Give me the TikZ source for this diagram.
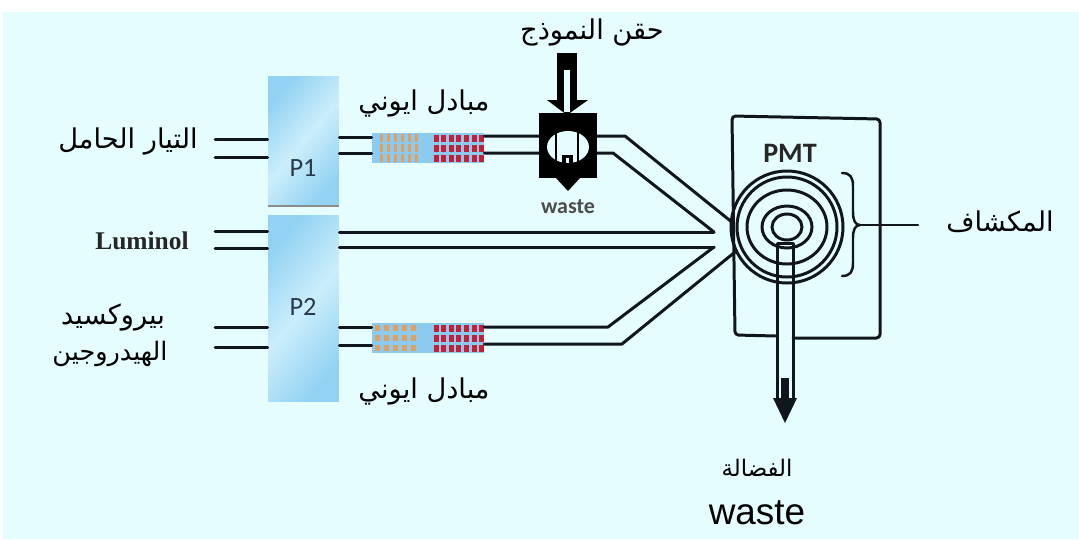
\documentclass[tikz,border=0pt]{standalone}
\usepackage{fontspec}
\usetikzlibrary{calc}
\usetikzlibrary{shapes.geometric}
\TeXXeTstate=1
\newfontfamily\arabicfont[Script=Arabic]{DejaVu Sans}
\newfontfamily\calibrifont{Carlito}
\newfontfamily\arialfont{Liberation Sans}
\newfontfamily\timesfont{Liberation Serif}
\definecolor{paper}{HTML}{E5FDFF}
\definecolor{ink}{HTML}{10161E}
\definecolor{exblue}{HTML}{8CCBEF}
\definecolor{exorange}{HTML}{E0A060}
\definecolor{exred}{HTML}{C02038}
\definecolor{pumpedge}{HTML}{93D2F3}
\definecolor{pumpmid}{HTML}{CBEEFB}
\definecolor{pumptext}{HTML}{2A3A4C}
\tikzstyle{tube}=[ink,line width=1.7pt,line cap=round,line join=round]
\tikzstyle{ring}=[ink,line width=1.7pt]
\tikzstyle{pump}=[inner sep=0pt,minimum width=1.42cm,left color=pumpedge,right color=pumpedge,middle color=pumpmid,shading angle=50]
\tikzstyle{pumplabel}=[inner sep=0pt,text=pumptext,font=\calibrifont\fontsize{15}{15}\selectfont]
\tikzstyle{arlabel}=[inner sep=0pt,align=center,font=\arabicfont\fontsize{15.5}{18}\selectfont]
\newcommand{\newexchanger}[5]{
\pgfmathsetmacro{\ytop}{#2-10}
\node[fill=exblue,inner sep=0pt,minimum width=2.24cm,minimum height=0.6cm] (#1) at (428,#2) {};
\foreach \row in {0,1,2} {
  \foreach \col in {#5} {
    \fill[exorange] (\col-#3/2,\ytop+\row*10-#4/2) rectangle ++(#3,#4);
  }
  \foreach \col in {0,1,...,6} {
    \fill[exred] (436+\col*7.6-2.5,\ytop+\row*10-3.5) rectangle ++(5,7);
  }
}
}
\begin{document}
\begin{tikzpicture}[x=0.02cm,y=-0.02cm]
  \useasboundingbox (0,0) rectangle (1079,539);
  \fill[paper] (3,12) rectangle (1079,539);
  % pumps
  \node[pump,minimum height=2.6cm] (P1) at (303.5,141) {};
  \node[pump,minimum height=3.74cm] (P2) at (303.5,308.5) {};
  \node[pumplabel] (P1text) at (303,168) {P1};
  \node[pumplabel] (P2text) at (303,307) {P2};
  \draw[black!45,line width=1pt] (P1.south west) -- (P1.south east);
  % ion exchangers
  \newexchanger{ionA}{148}{3}{8}{381,388,395,402,409,416}
  \newexchanger{ionB}{338}{5}{6}{377,386,395,404,413}
  % free ends of the tubes
  \coordinate (carrierA) at (215,139);
  \coordinate (carrierB) at (215,157);
  \coordinate (lumA) at (215,231);
  \coordinate (lumB) at (215,248);
  \coordinate (peroxA) at (215,327);
  \coordinate (peroxB) at (215,347);
  \coordinate (mixA) at (733,223);
  \coordinate (mixB) at (714,232);
  \coordinate (mixC) at (714,247);
  \coordinate (mixD) at (735,252);
  \draw[tube] (carrierA) -- (carrierA -| P1.west);
  \draw[tube] (carrierB) -- (carrierB -| P1.west);
  \draw[tube] (lumA) -- (lumA -| P2.west);
  \draw[tube] (lumB) -- (lumB -| P2.west);
  \draw[tube] (peroxA) -- (peroxA -| P2.west);
  \draw[tube] (peroxB) -- (peroxB -| P2.west);
  \draw[tube] (P1.east |- 0,137) -- (ionA.west |- 0,137);
  \draw[tube] (P1.east |- 0,153) -- (ionA.west |- 0,153);
  \draw[tube] (P2.east |- 0,327) -- (ionB.west |- 0,327);
  \draw[tube] (P2.east |- 0,345) -- (ionB.west |- 0,345);
  \draw[tube] (P2.east |- mixB) -- (mixB);
  \draw[tube] (P2.east |- mixC) -- (mixC);
  \draw[tube] (ionA.east |- 0,136) -- (625,136) -- (mixA);
  \draw[tube] (ionA.east |- 0,153) -- (613,153) -- (mixB);
  \draw[tube] (ionB.east |- 0,327) -- (608,327) -- (mixC);
  \draw[tube] (ionB.east |- 0,344) -- (622,344) -- (mixD);
  % injection valve
  \node[fill=black,inner sep=0pt,minimum width=1.18cm,minimum height=1.3cm] (valve) at (568,145.5) {};
  \node[ellipse,fill=paper,inner sep=0pt,minimum width=0.84cm,minimum height=0.64cm] (hole) at (568,147) {};
  \fill[black] (557,53) rectangle (577,101);
  \fill[black] (547,100) -- (588,100) -- (567,115) -- cycle;
  \fill[black] (556,178) -- (580,178) -- (568,191) -- cycle;
  \fill[paper] (564,70) rectangle (570,112);
  \draw[black,line width=1.6pt] (556,131) -- (556,162);
  \draw[black,line width=1.6pt] (578,131) -- (578,162);
  \fill[black] (562,155) rectangle (573,163);
  \fill[paper] (566,158) rectangle (569,163);
  % detector
  \draw[tube,rounded corners=2pt] (776,336) -- (735,335) -- (732,116) -- (880,119) -- (880,338) -- (793,338);
  \foreach \rx/\ry in {56/56,50/50,40/37,25/21,15/13} {
    \draw[ring] (787,227) ellipse [x radius=\rx,y radius=\ry];
  }
  \draw[tube] (777,400) -- (777,243) -- (793,243) -- (793,400);
  \fill[ink] (781,378) rectangle (789,398);
  \fill[ink] (773,398) -- (797,398) -- (785,423) -- cycle;
  % brace to the label
  \coordinate (braceend) at (918,225);
  \draw[tube,line width=1.4pt] (842,173) .. controls (850,173) and (853,177) .. (853,186) -- (853,212) .. controls (853,220) and (855,225) .. (860,225) .. controls (855,225) and (853,230) .. (853,238) -- (853,263) .. controls (853,272) and (850,276) .. (842,276);
  \draw[tube,line width=1.4pt] (860,225) -- (braceend);
  % labels
  \node[arlabel] (carrierlabel) at (128,141) {\beginR التيار الحامل\endR};
  \node[arlabel] (injectlabel) at (592,32) {\beginR حقن النموذج\endR};
  \node[arlabel] (ionAlabel) at (424,103) {\beginR مبادل ايوني\endR};
  \node[arlabel] (ionBlabel) at (424,391) {\beginR مبادل ايوني\endR};
  \node[arlabel] (peroxAlabel) at (113,317) {\beginR بيروكسيد\endR};
  \node[arlabel,font=\arabicfont\fontsize{14.5}{18}\selectfont] (peroxBlabel) at (110,354) {\beginR الهيدروجين\endR};
  \node[arlabel] (detlabel) at (1000,222) {\beginR المكشاف\endR};
  \node[arlabel,font=\arabicfont\fontsize{13}{16}\selectfont] (wastelabel) at (757,468) {\beginR الفضالة\endR};
  \node[inner sep=0pt,font=\timesfont\bfseries\fontsize{14.5}{14.5}\selectfont,text=black!85] (lumlabel) at (142,241) {Luminol};
  \node[inner sep=0pt,font=\calibrifont\bfseries\fontsize{16}{16}\selectfont,text=black!85] (pmtlabel) at (790,153) {PMT};
  \node[inner sep=0pt,font=\calibrifont\bfseries\fontsize{12.5}{12.5}\selectfont,text=black!70] (valvewaste) at (568,207) {waste};
  \node[inner sep=0pt,font=\arialfont\fontsize{21}{21}\selectfont] (bigwaste) at (757,513) {waste};
\end{tikzpicture}
\end{document}
